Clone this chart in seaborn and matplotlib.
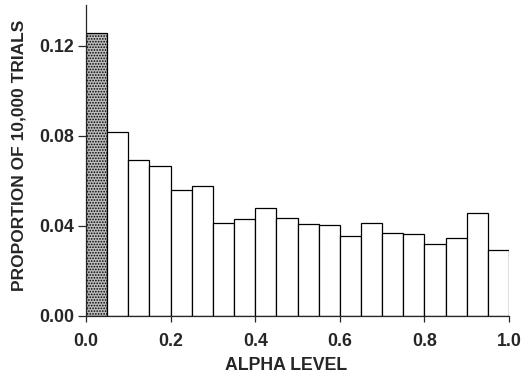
import matplotlib
matplotlib.use("Agg")
import matplotlib.pyplot as plt
import seaborn as sns
import numpy as np

# Data: proportion of 10,000 trials per alpha-level bin (width 0.05)
bin_edges = [0.00, 0.05, 0.10, 0.15, 0.20, 0.25, 0.30, 0.35, 0.40, 0.45, 0.50,
             0.55, 0.60, 0.65, 0.70, 0.75, 0.80, 0.85, 0.90, 0.95, 1.00]
bin_centers = [0.025, 0.075, 0.125, 0.175, 0.225, 0.275, 0.325, 0.375, 0.425, 0.475,
               0.525, 0.575, 0.625, 0.675, 0.725, 0.775, 0.825, 0.875, 0.925, 0.975]
proportions = [0.1256, 0.0816, 0.0693, 0.0667, 0.0557, 0.0575, 0.0412, 0.0430, 0.0478, 0.0434,
               0.0409, 0.0403, 0.0353, 0.0412, 0.0367, 0.0363, 0.0319, 0.0344, 0.0459, 0.0292]
x_ticks = [0.0, 0.2, 0.4, 0.6, 0.8, 1.0]
y_ticks = [0.00, 0.04, 0.08, 0.12]

sns.set_style("ticks")
plt.rcParams['font.family'] = ['Liberation Sans', 'DejaVu Sans']
plt.rcParams['hatch.linewidth'] = 0.8

fig = plt.figure(figsize=(5.28, 3.76), dpi=100)
ax = fig.add_axes([86/528, 1 - 316/376, (509 - 86)/528, (316 - 5)/376])

sns.histplot(x=bin_centers, weights=proportions, bins=bin_edges, ax=ax,
             color="white", edgecolor="black", linewidth=0.9, alpha=1)

first = ax.patches[0]
first.set_facecolor("#bdbdbd")
first.set_hatch("......")
first.set_edgecolor("black")

ax.set_xlim(0, 1.0)
ax.set_ylim(0, 0.138)
ax.set_xticks(x_ticks)
ax.set_xticklabels([f"{t:.1f}" for t in x_ticks])
ax.set_yticks(y_ticks)
ax.set_yticklabels([f"{t:.2f}" for t in y_ticks])
for lab in ax.get_xticklabels() + ax.get_yticklabels():
    lab.set_fontweight("bold")
    lab.set_fontsize(12.8)
ax.tick_params(axis="x", direction="out", length=4.3, width=0.9, pad=8)
ax.tick_params(axis="y", direction="out", length=5.8, width=0.9, pad=3)

sns.despine(ax=ax)
for s in ("left", "bottom"):
    ax.spines[s].set_linewidth(0.9)

ax.set_xlabel("ALPHA LEVEL", fontsize=12.8, fontweight="bold", va="center")
ax.set_ylabel("PROPORTION OF 10,000 TRIALS", fontsize=12.5, fontweight="bold", va="center")
ax.xaxis.set_label_coords(0.473, -0.16)
ax.yaxis.set_label_coords(-0.158, 0.518)

fig.savefig("out.png", dpi=100)
